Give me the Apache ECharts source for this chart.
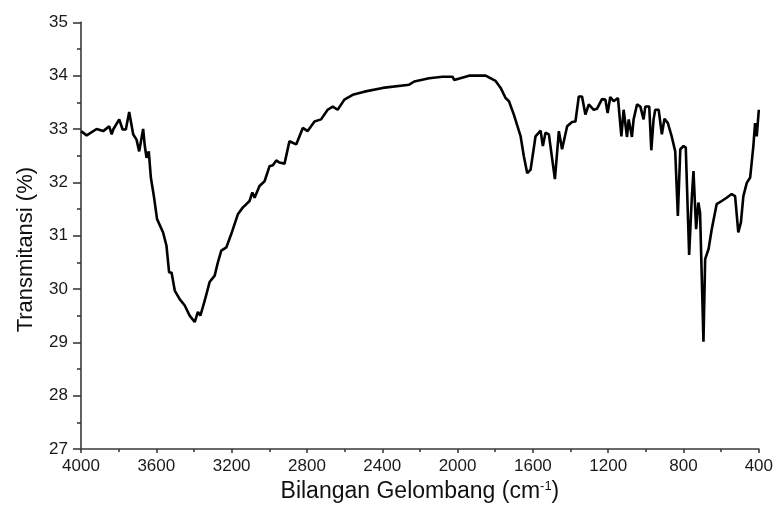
<!DOCTYPE html>
<html>
<head>
<meta charset="utf-8">
<script src="https://cdn.jsdelivr.net/npm/echarts@6/dist/echarts.min.js"></script>
<style>
html,body{margin:0;padding:0;background:#fff;}
#chart{width:776px;height:508px;}
</style>
</head>
<body>
<div id="chart"></div>
<script>
const wavenumber = [4000,3970,3917,3882,3850,3837,3829,3797,3779,3762,3744,3723,3705,3691,3670,3661,3652,3640,3629,3613,3596,3564,3546,3532,3519,3502,3476,3449,3423,3396,3379,3366,3343,3317,3290,3273,3255,3228,3202,3167,3140,3122,3105,3090,3078,3052,3025,2999,2981,2963,2946,2919,2893,2857,2822,2796,2760,2725,2690,2663,2637,2601,2557,2495,2398,2257,2230,2151,2080,2027,2018,1939,1851,1798,1771,1745,1727,1701,1665,1648,1630,1612,1586,1559,1547,1533,1515,1483,1462,1445,1418,1392,1374,1356,1339,1321,1303,1277,1259,1233,1215,1203,1189,1171,1148,1130,1118,1100,1091,1074,1065,1047,1029,1012,1003,982,971,959,950,932,915,901,883,862,844,830,817,800,788,770,756,747,733,721,712,694,685,667,650,624,597,571,544,526,509,495,482,464,446,429,420,411,400];
const transmittance = [32.96,32.88,33.00,32.96,33.05,32.90,32.99,33.18,32.99,32.99,33.32,32.90,32.80,32.58,33.00,32.68,32.46,32.58,32.09,31.74,31.31,31.06,30.81,30.31,30.31,29.97,29.81,29.69,29.50,29.38,29.57,29.50,29.78,30.13,30.25,30.50,30.72,30.78,31.03,31.40,31.53,31.59,31.65,31.81,31.71,31.93,32.02,32.30,32.32,32.41,32.37,32.35,32.77,32.71,33.02,32.96,33.14,33.18,33.36,33.42,33.36,33.55,33.64,33.70,33.77,33.83,33.89,33.95,33.98,33.98,33.92,34.00,34.00,33.90,33.77,33.58,33.52,33.27,32.86,32.49,32.17,32.24,32.86,32.97,32.68,32.93,32.90,32.06,32.96,32.62,33.05,33.13,33.14,33.61,33.61,33.27,33.46,33.36,33.38,33.56,33.55,33.30,33.60,33.52,33.58,32.86,33.36,32.85,33.18,32.85,33.18,33.46,33.42,33.18,33.42,33.42,32.60,33.18,33.36,33.36,32.90,33.19,33.11,32.85,32.58,31.37,32.62,32.68,32.65,30.64,31.71,32.21,31.12,31.62,31.43,29.01,30.56,30.75,31.12,31.59,31.65,31.71,31.78,31.74,31.06,31.25,31.74,31.99,32.09,32.68,33.11,32.86,33.36];
const xTicks = {min: 400, max: 4000, step: 400};
const yTicks = {min: 27, max: 35, step: 1};
const xTitle = 'Bilangan Gelombang (cm';
const yTitle = 'Transmitansi (%)';

const points = wavenumber.map((w, i) => [w, transmittance[i]]);
const chart = echarts.init(document.getElementById('chart'), null, {renderer: 'canvas'});
const axisColor = '#3a3a3a';
const font = '"Liberation Sans", Arial, sans-serif';
chart.setOption({
  animation: false,
  backgroundColor: '#fff',
  grid: {left: 81, right: 15.5, top: 22.3, bottom: 57.3, containLabel: false},
  xAxis: {
    type: 'value', inverse: true,
    min: xTicks.min, max: xTicks.max, interval: xTicks.step,
    name: xTitle + '{sup|-1}' + ')',
    nameLocation: 'middle', nameGap: 31,
    nameTextStyle: {
      fontFamily: font, fontSize: 23, color: '#111',
      rich: {sup: {fontFamily: font, fontSize: 13, color: '#111', verticalAlign: 'top', padding: [0, 0, 10, 0]}}
    },
    axisLine: {show: true, lineStyle: {color: axisColor, width: 1.6}},
    axisTick: {show: true, inside: false, length: 4, lineStyle: {color: axisColor, width: 1.6}},
    minorTick: {show: true, splitNumber: 2, length: 3, lineStyle: {color: axisColor, width: 1.6}},
    splitLine: {show: false},
    axisLabel: {margin: 9, fontFamily: font, fontSize: 17, color: '#1a1a1a', formatter: v => String(v)}
  },
  yAxis: {
    type: 'value',
    min: yTicks.min, max: yTicks.max, interval: yTicks.step,
    name: yTitle,
    nameLocation: 'middle', nameGap: 44, nameRotate: 90,
    nameTextStyle: {fontFamily: font, fontSize: 22, color: '#111', padding: [0, 28, 0, 0]},
    axisLine: {show: true, lineStyle: {color: axisColor, width: 1.6}},
    axisTick: {show: true, inside: false, length: 8, lineStyle: {color: axisColor, width: 1.6}},
    minorTick: {show: true, splitNumber: 2, length: 4, lineStyle: {color: axisColor, width: 1.6}},
    splitLine: {show: false},
    axisLabel: {margin: 13, fontFamily: font, fontSize: 17, color: '#1a1a1a', formatter: v => String(v)}
  },
  series: [{
    type: 'line',
    data: points,
    showSymbol: false,
    symbol: 'none',
    smooth: false,
    lineStyle: {color: '#000', width: 2.6},
    clip: true
  }]
});
</script>
</body>
</html>
